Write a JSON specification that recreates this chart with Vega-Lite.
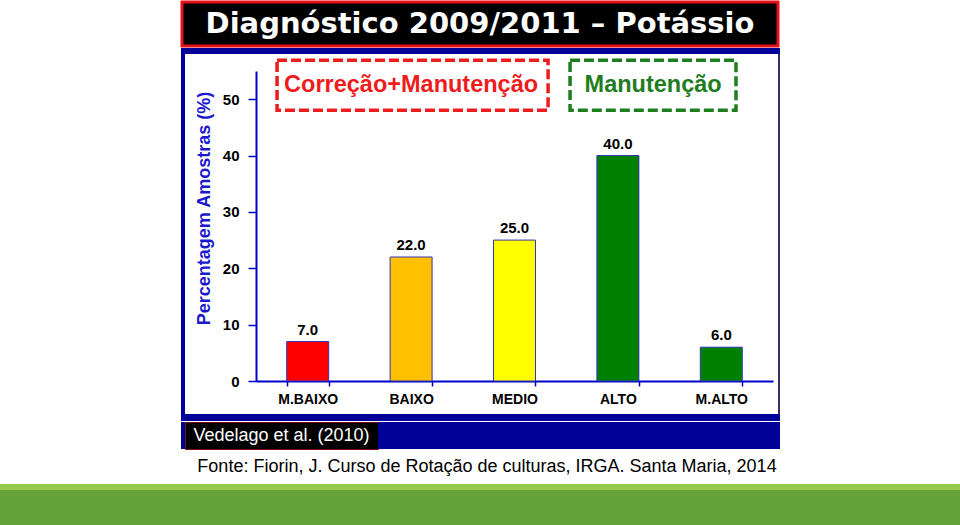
{
  "$schema": "https://vega.github.io/schema/vega-lite/v6.json",
  "padding": 0,
  "background": "white",
  "spacing": 0,
  "bounds": "full",
  "config": {"view": {"stroke": null}, "concat": {"spacing": 0}, "font": "Liberation Sans"},
  "vconcat": [
    {"hconcat": [
      {"width": 182, "height": 44, "data": {"values": []}, "mark": {"type": "text", "text": ""}},
      {"width": 596, "height": 44, "data": {"values": [{"t": "Diagnóstico 2009/2011 – Potássio"}]},
       "mark": {"type": "text", "color": "white", "font": "DejaVu Sans", "fontSize": 29, "fontWeight": "bold"},
       "encoding": {"text": {"field": "t"}},
       "view": {"fill": "black", "stroke": "#e8101a", "strokeWidth": 3}}
    ], "spacing": 0, "bounds": "flush"},
    {"hconcat": [
      {"width": 181, "height": 6, "data": {"values": []}, "mark": {"type": "text", "text": ""}},
      {"width": 599, "height": 6, "data": {"values": []}, "mark": {"type": "text", "text": ""}, "view": {"fill": "#000099"}}
    ], "spacing": 0, "bounds": "flush"},
    {"hconcat": [
      {"width": 181, "height": 360, "data": {"values": []}, "mark": {"type": "text", "text": ""}},
      {"width": 4, "height": 360, "data": {"values": []}, "mark": {"type": "text", "text": ""}, "view": {"fill": "#000099"}},
      {
        "width": 593, "height": 360,
        "view": {"fill": "white"},
        "data": {"values": [
          {"classe": "M.BAIXO", "pct": 7.0},
          {"classe": "BAIXO", "pct": 22.0},
          {"classe": "MEDIO", "pct": 25.0},
          {"classe": "ALTO", "pct": 40.0},
          {"classe": "M.ALTO", "pct": 6.0}
        ]},
        "layer": [
          {"mark": {"type": "bar", "stroke": "#3333bb", "strokeWidth": 1},
           "encoding": {
             "x": {"field": "classe", "type": "nominal", "sort": null,
               "scale": {"domain": ["M.BAIXO", "BAIXO", "MEDIO", "ALTO", "M.ALTO"], "range": [71, 588], "paddingInner": 0.594, "paddingOuter": 0.297},
               "axis": {"orient": "bottom", "offset": -33, "title": null, "labelAngle": 0, "domainColor": "#0000cc", "domainWidth": 2,
                 "tickColor": "#0000cc", "tickSize": 5, "tickWidth": 1.5, "tickBand": "extent", "labelFont": "Liberation Sans",
                 "labelFontWeight": "bold", "labelFontSize": 14, "labelColor": "black", "labelPadding": 6, "grid": false}},
             "y": {"field": "pct", "type": "quantitative",
               "scale": {"domain": [0, 55], "range": [327, 17], "nice": false, "zero": true},
               "axis": {"values": [0, 10, 20, 30, 40, 50], "offset": -71, "domainColor": "#0000cc", "domainWidth": 2,
                 "tickColor": "#0000cc", "tickSize": 8, "tickWidth": 1.5, "labelFont": "Liberation Sans", "labelFontWeight": "bold",
                 "labelFontSize": 15, "labelColor": "black", "labelPadding": 9, "grid": false,
                 "title": "Percentagem Amostras (%)", "titleColor": "#1a1acc", "titleFont": "Liberation Sans", "titleFontSize": 18,
                 "titleFontWeight": "bold", "titleX": -52, "titleY": 154, "titleAngle": -90, "titleBaseline": "middle", "titleAlign": "center"}},
             "color": {"field": "classe", "type": "nominal",
               "scale": {"domain": ["M.BAIXO", "BAIXO", "MEDIO", "ALTO", "M.ALTO"], "range": ["#ff0000", "#ffc000", "#ffff00", "#008000", "#008000"]},
               "legend": null}}},
          {"mark": {"type": "text", "font": "Liberation Sans", "fontWeight": "bold", "fontSize": 15, "baseline": "bottom", "dy": -4, "color": "black"},
           "encoding": {
             "x": {"field": "classe", "type": "nominal", "sort": null},
             "y": {"field": "pct", "type": "quantitative"},
             "text": {"field": "pct", "type": "quantitative", "format": ".1f"}}},
          {"data": {"values": [{"rotulo": "Correção+Manutenção"}]},
           "mark": {"type": "rect", "fill": "transparent", "stroke": "#ee1c1c", "strokeWidth": 3.5, "strokeDash": [10, 4]},
           "encoding": {"x": {"datum": "M.BAIXO", "type": "nominal", "bandPosition": -0.23}, "x2": {"datum": "MEDIO", "bandPosition": 1.3},
             "y": {"datum": 56.9, "type": "quantitative"}, "y2": {"datum": 48.05}}},
          {"data": {"values": [{"rotulo": "Correção+Manutenção"}]},
           "mark": {"type": "text", "font": "Liberation Sans", "fontWeight": "bold", "fontSize": 23.5, "color": "#ee1c1c", "baseline": "middle"},
           "encoding": {"x": {"datum": "BAIXO", "type": "nominal"}, "y": {"datum": 52.5, "type": "quantitative"}, "text": {"field": "rotulo", "type": "nominal"}}},
          {"data": {"values": [{"rotulo": "Manutenção"}]},
           "mark": {"type": "rect", "fill": "transparent", "stroke": "#1e7d1e", "strokeWidth": 3.5, "strokeDash": [10, 4]},
           "encoding": {"x": {"datum": "ALTO", "type": "nominal", "bandPosition": -0.64}, "x2": {"datum": "M.ALTO", "bandPosition": 0.85},
             "y": {"datum": 56.9, "type": "quantitative"}, "y2": {"datum": 48.05}}},
          {"data": {"values": [{"rotulo": "Manutenção"}]},
           "mark": {"type": "text", "font": "Liberation Sans", "fontWeight": "bold", "fontSize": 23.5, "color": "#1e7d1e", "baseline": "middle"},
           "encoding": {"x": {"datum": "ALTO", "type": "nominal", "bandPosition": 1.34}, "y": {"datum": 52.5, "type": "quantitative"}, "text": {"field": "rotulo", "type": "nominal"}}}
        ]
      },
      {"width": 2, "height": 360, "data": {"values": []}, "mark": {"type": "text", "text": ""}, "view": {"fill": "#333366"}}
    ], "spacing": 0, "bounds": "flush"},
    {"hconcat": [
      {"width": 181, "height": 7, "data": {"values": []}, "mark": {"type": "text", "text": ""}},
      {"width": 599, "height": 7, "data": {"values": []}, "mark": {"type": "text", "text": ""}, "view": {"fill": "#000099"}}
    ], "spacing": 0, "bounds": "flush"},
    {"hconcat": [
      {"width": 181, "height": 27, "data": {"values": []}, "mark": {"type": "text", "text": ""}},
      {"width": 4, "height": 27, "data": {"values": []}, "mark": {"type": "text", "text": ""}, "view": {"fill": "#000099"}},
      {"width": 193, "height": 27, "data": {"values": [{"t": "Vedelago et al. (2010)"}]},
       "mark": {"type": "text", "color": "white", "font": "Liberation Sans", "fontSize": 18},
       "encoding": {"text": {"field": "t"}},
       "view": {"fill": "black", "stroke": "#7a0a14", "strokeWidth": 1}},
      {"width": 402, "height": 27, "data": {"values": []}, "mark": {"type": "text", "text": ""}, "view": {"fill": "#000099"}}
    ], "spacing": 0, "bounds": "flush"},
    {"hconcat": [
      {"width": 14, "height": 34, "data": {"values": []}, "mark": {"type": "text", "text": ""}},
      {"width": 946, "height": 34, "data": {"values": [{"t": "Fonte: Fiorin, J. Curso de Rotação de culturas, IRGA. Santa Maria, 2014"}]},
       "mark": {"type": "text", "color": "black", "font": "Liberation Sans", "fontSize": 18},
       "encoding": {"text": {"field": "t"}}}
    ], "spacing": 0, "bounds": "flush"},
    {"width": 960, "height": 6, "data": {"values": []}, "mark": {"type": "text", "text": ""}, "view": {"fill": "#97c950"}},
    {"width": 960, "height": 37, "data": {"values": []}, "mark": {"type": "text", "text": ""}, "view": {"fill": "#65a33a"}}
  ]
}
